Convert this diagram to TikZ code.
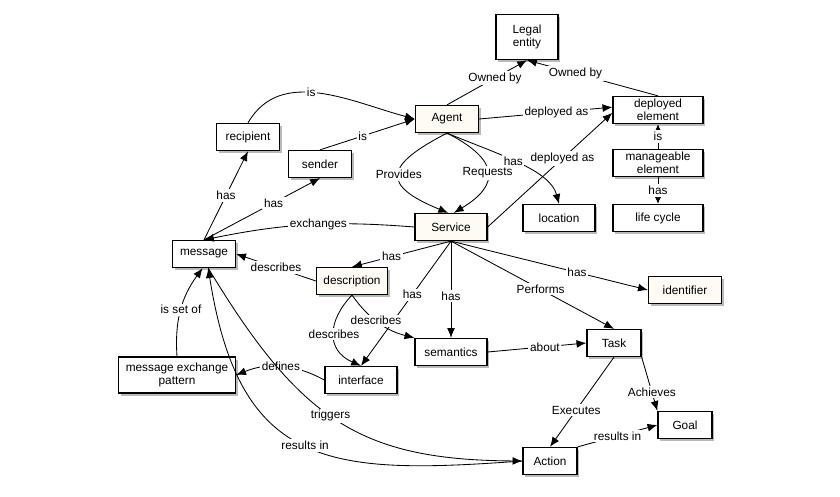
\documentclass[tikz,border=0pt]{standalone}
\usepackage{fontspec}
\setmainfont{Liberation Sans}
\usepackage{xcolor}
\usepackage{tikz}
\usetikzlibrary{arrows.meta,shadows}

\definecolor{cream}{RGB}{253,251,243}

\tikzset{
	box/.style={draw, line width=0.9pt, fill=white, align=center, inner sep=1pt, minimum height=0.675cm, font=\fontsize{8.4}{9.4}\selectfont, drop shadow={shadow xshift=1.6pt, shadow yshift=-1.8pt, fill=black!60, opacity=0.45}},
	lbl/.style={fill=white, inner sep=1.2pt, font=\fontsize{8.4}{9.4}\selectfont},
	rel/.style={-{Latex[length=7pt,width=5.6pt]}, line width=0.6pt},
	relsmall/.style={-{Latex[length=5pt,width=4.5pt]}, line width=0.6pt}
}

\begin{document}
\begin{tikzpicture}[x=0.025cm,y=-0.025cm]

\useasboundingbox (0,0) rectangle (840,497);

\node[box, minimum width=1.55cm, minimum height=1.125cm] (legal) at (527,37) {Legal\\entity};
\node[box, fill=cream, minimum width=1.575cm] (agent) at (447,119) {Agent};
\node[box, minimum width=2.25cm] (deployed) at (658,110) {deployed\\element};
\node[box, minimum width=2.25cm] (manageable) at (658,163) {manageable\\element};
\node[box, minimum width=2.25cm] (lifecycle) at (658,218) {life cycle};
\node[box, minimum width=1.8cm] (location) at (559,218) {location};
\node[box, fill=cream, minimum width=1.8cm] (service) at (451,227) {Service};
\node[box, minimum width=1.575cm] (recipient) at (248,137) {recipient};
\node[box, minimum width=1.575cm] (sender) at (320,164) {sender};
\node[box, minimum width=1.575cm] (message) at (204,254) {message};
\node[box, fill=cream, minimum width=1.775cm] (description) at (352,281) {description};
\node[box, minimum width=1.8cm] (semantics) at (451,352) {semantics};
\node[box, minimum width=1.8cm] (interface) at (361,380) {interface};
\node[box, minimum width=2.925cm, minimum height=0.9cm] (mep) at (177,375) {message exchange\\pattern};
\node[box, fill=cream, minimum width=1.825cm] (identifier) at (685,290) {identifier};
\node[box, minimum width=1.35cm] (task) at (614,343) {Task};
\node[box, minimum width=1.35cm] (goal) at (685,425) {Goal};
\node[box, minimum width=1.35cm] (action) at (550,461) {Action};

\draw[rel] (recipient.north) to[out=60,in=165] node[lbl,pos=0.45]{is} (agent.west);
\draw[rel] (sender.north) -- node[lbl,pos=0.45]{is} (agent.west);
\draw[rel] (agent.north) -- node[lbl,pos=0.6]{Owned by} (legal.south);
\draw[rel] (deployed.north) -- node[lbl,pos=0.63]{Owned by} (legal.south);
\draw[rel] (agent.east) -- node[lbl,pos=0.58]{deployed as} ([yshift=2pt]deployed.west);
\draw[rel] (service.east) -- node[lbl,pos=0.6]{deployed as} ([yshift=-2pt]deployed.west);
\draw[relsmall] (manageable.north) -- node[lbl]{is} (deployed.south);
\draw[relsmall] (manageable.south) -- node[lbl]{has} (lifecycle.north);

\draw[rel] (agent.south) .. controls (385,165) and (380,185) .. node[lbl]{Provides} ([xshift=-2pt]service.north);
\draw[rel] (agent.south) .. controls (500,160) and (500,185) .. node[lbl]{Requests} ([xshift=2pt]service.north);
\draw[rel] (agent.south) .. controls (500,155) and (550,170) .. node[lbl,pos=0.45]{has} (location.north);

\draw[rel] (service.west) to[bend right=8] node[lbl,pos=0.45]{exchanges} (message.north);
\draw[rel] (message.north) -- node[lbl]{has} (recipient.south);
\draw[rel] (message.north) -- node[lbl,pos=0.6]{has} (sender.south);
\draw[rel] (description.west) -- node[lbl]{describes} (message.east);

\foreach \target/\txt/\p in {description.north/has/0.6, interface.north/has/0.43, semantics.north/has/0.57, task.north/Performs/0.55, identifier.west/has/0.64}{
	\draw[rel] (service.south) -- node[lbl,pos=\p]{\txt} (\target);
}

\draw[rel] (description.south) .. controls (328,320) and (325,350) .. node[lbl]{describes} (interface.north);
\draw[rel] (description.south) to[bend right=20] node[lbl,pos=0.45]{describes} (semantics.north west);
\draw[rel] (semantics.east) -- node[lbl,pos=0.58]{about} (task.west);
\draw[rel] (task.south east) -- node[lbl,pos=0.65]{Achieves} (goal.north west);
\draw[rel] (task.south) -- node[lbl,pos=0.59]{Executes} (action.north);
\draw[rel] (action.north east) -- node[lbl]{results in} (goal.west);

\draw[rel] (interface.west) to[bend right=25] node[lbl]{defines} (mep.east);
\draw[rel] (mep.north) to[bend left=20] node[lbl]{is set of} ([xshift=-1pt]message.south);
\draw[rel] ([xshift=3pt]message.south) .. controls (300,420) and (360,460) .. node[lbl,pos=0.47]{triggers} (action.west);
\draw[rel] (action.west) .. controls (330,475) and (240,470) .. node[lbl]{results in} ([xshift=3pt]message.south);

\end{tikzpicture}
\end{document}
